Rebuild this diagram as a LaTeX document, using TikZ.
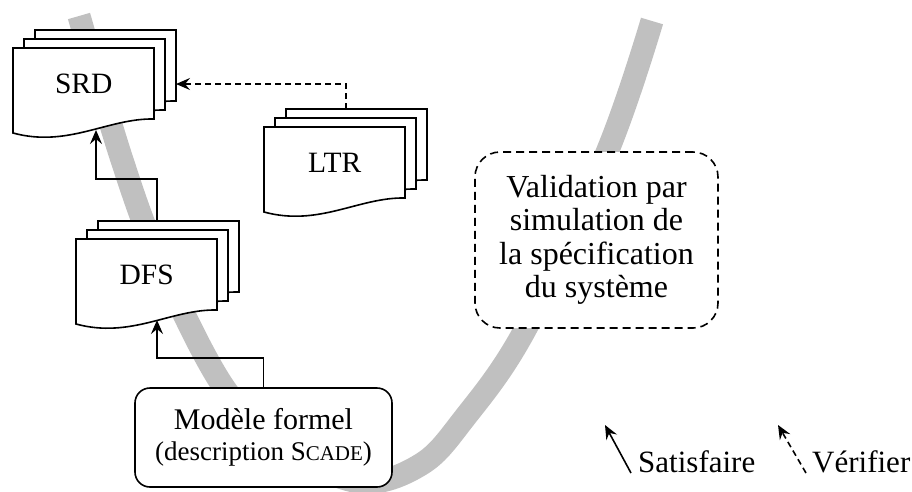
\documentclass[tikz,border=0pt]{standalone}
\usepackage{fontspec}
\setmainfont{Liberation Serif}
\usetikzlibrary{arrows.meta,calc}

\definecolor{bandgray}{RGB}{192,192,192}

\tikzset{
  docline/.style={draw=black, line width=1.6pt, fill=white, line join=miter},
  docpage/.pic={\path[docline] (0,0) -- (141,0) -- (141,71)
      .. controls (95,70) and (55,100) .. (0,85) -- cycle;},
  doclabel/.style={minimum width=141pt, minimum height=71pt, inner sep=0pt,
      anchor=north west, font=\fontsize{29.5}{34}\selectfont},
  connhead/.style={-{Stealth[length=14pt,width=12pt,inset=5pt]}},
  satisfy/.style={connhead, line width=1.6pt},
  verify/.style={connhead, line width=1.6pt, dash pattern=on 6pt off 4pt},
  roundbox/.style={draw=black, line width=1.6pt, fill=white, align=center,
      inner sep=0pt},
  legendtext/.style={anchor=base west, inner sep=0pt, font=\fontsize{31}{34}\selectfont}
}

\begin{document}
\begin{tikzpicture}[x=1pt,y=-1pt]
\useasboundingbox (0,0) rectangle (912,491);

% broad grey band behind everything
\draw[bandgray, line width=23pt] plot[smooth, tension=0.6] coordinates
  {(79,16) (122,160) (160,262) (225,389) (290,450) (360,482) (420,465)
   (463,420) (526,328) (608,150) (652,21)};

% document stacks
\pic at (35,30) {docpage};
\pic at (24,39) {docpage};
\pic at (13,48) {docpage};
\node[doclabel] (srd) at (13,48) {SRD};

\pic at (98,221) {docpage};
\pic at (87,230) {docpage};
\pic at (76,239) {docpage};
\node[doclabel] (dfs) at (76,239) {DFS};

\pic at (286,109) {docpage};
\pic at (275,118) {docpage};
\pic at (264,127) {docpage};
\node[doclabel] (ltr) at (264,127) {LTR};

% formal model
\node[roundbox, rounded corners=15pt, minimum width=257pt, minimum height=99pt,
      font=\fontsize{30}{31}\selectfont]
  (model) at (263.5,437.5)
  {Modèle formel\\
   {\fontsize{27}{31}\selectfont (description S{\fontsize{21}{31}\selectfont CADE})}};

% validation by simulation
\node[roundbox, rounded corners=25pt, minimum width=243pt, minimum height=176pt,
      dash pattern=on 8pt off 5pt, font=\fontsize{32}{33.5}\selectfont]
  (valid) at (596.5,240)
  {Validation par\\simulation de\\la spécification\\du système};

% connection points on the stacks
\coordinate (srd-in)    at ($(srd.north west)+(83,82)$);
\coordinate (srd-side)  at ($(srd.north west)+(163,36)$);
\coordinate (dfs-in)    at ($(dfs.north west)+(81,81)$);
\coordinate (dfs-out)   at ($(dfs.north west)+(81,-18)$);
\coordinate (ltr-out)   at ($(ltr.north west)+(82,-18)$);

\draw[satisfy] (model.north) -- ++(0,-29) -| (dfs-in);
\draw[satisfy] (dfs-out) -- ++(0,-42) -| (srd-in);
\draw[verify] (ltr-out) |- (srd-side);

% legend
\node[legendtext] (satlabel) at (638,472) {Satisfaire};
\node[legendtext] (verlabel) at (812,472) {Vérifier};
\coordinate (sat-tail) at ($(satlabel.base west)+(-7,1)$);
\coordinate (sat-head) at ($(sat-tail)+(-26,-48)$);
\coordinate (ver-tail) at ($(verlabel.base west)+(-6,1)$);
\coordinate (ver-head) at ($(ver-tail)+(-28,-48)$);
\draw[satisfy] (sat-tail) -- (sat-head);
\draw[verify] (ver-tail) -- (ver-head);
\end{tikzpicture}
\end{document}
